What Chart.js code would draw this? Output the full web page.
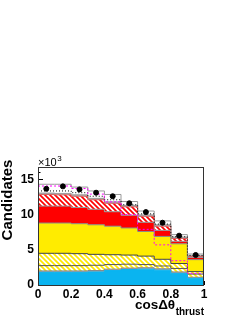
<!DOCTYPE html>
<html>
<head>
<meta charset="utf-8">
<script src="https://cdn.jsdelivr.net/npm/chart.js@4.4.0/dist/chart.umd.min.js"></script>
<style>
  html, body { margin: 0; padding: 0; background: #fff; }
  #wrap { width: 245px; height: 317px; }
</style>
</head>
<body>
<div id="wrap"><canvas id="histChart"></canvas></div>
<script>
// 10 bins in cos(dtheta_thrust), contents in units of 10^3 candidates
const binEdges = [0, 0.1, 0.2, 0.3, 0.4, 0.5, 0.6, 0.7, 0.8, 0.9, 1.0];
const binCenters = [0.05, 0.15, 0.25, 0.35, 0.45, 0.55, 0.65, 0.75, 0.85, 0.95];

// stacked components, bottom to top
const blueComp     = [1.80, 1.80, 1.80, 1.85, 2.05, 2.20, 2.25, 2.10, 1.65, 0.95];
const grayLowComp  = [0.20, 0.20, 0.20, 0.20, 0.20, 0.20, 0.20, 0.20, 0.20, 0.15];
const hatchLowComp = [0.75, 0.75, 0.75, 0.75, 0.65, 0.55, 0.45, 0.40, 0.50, 0.45];
const hatchUpComp  = [1.75, 1.75, 1.70, 1.55, 1.40, 1.30, 1.20, 0.95, 0.70, 0.35];
const yellowComp   = [4.30, 4.30, 4.25, 4.20, 4.05, 3.85, 3.50, 3.25, 2.80, 1.70];
const redComp      = [2.40, 2.40, 2.30, 2.20, 2.05, 1.80, 1.30, 0.85, 0.35, 0.30];
const redHatchComp = [1.65, 1.60, 1.60, 1.35, 1.20, 1.20, 0.85, 0.60, 0.40, 0.15];
const grayHighComp = [0.20, 0.20, 0.20, 0.20, 0.20, 0.20, 0.20, 0.20, 0.20, 0.10];
const topComp      = [1.25, 1.30, 1.10, 1.05, 1.05, 0.55, 0.55, 0.55, 0.35, 0.25];

// overlaid (not stacked)
const dottedLine  = [13.35, 13.35, 13.10, 12.60, 12.10, 11.40, 10.10, 8.65, 6.85, 4.20];
const magentaLine = [14.05, 14.05, 13.70, 12.90, 11.80, 10.00, 7.90, 5.70, 3.45, 1.65];
const dataPoints  = [13.66, 14.00, 13.57, 13.10, 12.60, 11.60, 10.35, 8.84, 7.00, 4.26];

const xTicks = [0, 0.2, 0.4, 0.6, 0.8, 1];
const yTicks = [0, 5, 10, 15];

// hatch pattern "\\\\" on white
function hatch(color) {
  const c = document.createElement('canvas');
  c.width = 5; c.height = 5;
  const g = c.getContext('2d');
  g.fillStyle = '#fff';
  g.fillRect(0, 0, 5, 5);
  g.strokeStyle = color;
  g.lineWidth = 1.7;
  g.beginPath();
  g.moveTo(-1, -1); g.lineTo(6, 6);
  g.moveTo(-1, 4); g.lineTo(1, 6);
  g.moveTo(4, -1); g.lineTo(6, 1);
  g.stroke();
  return g.createPattern(c, 'repeat');
}

// histogram outline points from bin contents
function steps(vals) {
  const pts = vals.map((v, i) => ({ x: binEdges[i], y: v }));
  pts.push({ x: binEdges[vals.length], y: vals[vals.length - 1] });
  return pts;
}

const layers = [
  { comp: blueComp,     bg: '#0ab4f0',          border: '#0ab4f0' },
  { comp: grayLowComp,  bg: '#a9a9a9',          border: '#888888' },
  { comp: hatchLowComp, bg: hatch('#ffe800'),   border: '#555555' },
  { comp: hatchUpComp,  bg: hatch('#ffe800'),   border: '#444444' },
  { comp: yellowComp,   bg: '#ffec00',          border: '#888888' },
  { comp: redComp,      bg: '#ff0000',          border: '#999999' },
  { comp: redHatchComp, bg: hatch('#ff0000'),   border: '#cc6666' },
  { comp: grayHighComp, bg: '#b0b0b0',          border: '#999999' },
  { comp: topComp,      bg: '#ffffff',          border: '#999999' }
];

const datasets = [];
let running = new Array(binCenters.length).fill(0);
layers.forEach((l, i) => {
  running = running.map((r, k) => r + l.comp[k]);
  datasets.push({
    type: 'line',
    data: steps(running),
    stepped: true,
    fill: i === 0 ? 'origin' : '-1',
    backgroundColor: l.bg,
    borderColor: l.border,
    borderWidth: 1,
    pointRadius: 0,
    order: 5
  });
});

datasets.push({
  type: 'line',
  data: steps(dottedLine),
  stepped: true,
  fill: false,
  borderColor: '#000',
  borderWidth: 1,
  borderDash: [1, 2],
  pointRadius: 0,
  order: 2
});
datasets.push({
  type: 'line',
  data: steps(magentaLine),
  stepped: true,
  fill: false,
  borderColor: '#ff00ff',
  borderWidth: 1,
  borderDash: [2, 2],
  pointRadius: 0,
  order: 1
});
datasets.push({
  type: 'line',
  data: binCenters.map((x, i) => ({ x: x, y: dataPoints[i] })),
  showLine: false,
  pointRadius: 2.5,
  pointBackgroundColor: '#000',
  pointBorderColor: '#000',
  order: 0
});

// ROOT-like frame, inner ticks and text
const frameDecor = {
  id: 'frameDecor',
  beforeDatasetsDraw(chart) {
    const { ctx, chartArea: a, scales: { x, y } } = chart;
    ctx.save();
    ctx.strokeStyle = '#000';
    ctx.lineWidth = 1;
    ctx.beginPath();
    for (let v = 0; v <= 16; v++) {
      const py = Math.round(y.getPixelForValue(v)) + 0.5;
      const len = v % 5 === 0 ? 5 : 2.5;
      ctx.moveTo(a.left, py);
      ctx.lineTo(a.left + len, py);
    }
    for (let i = 0; i <= 20; i++) {
      const px = Math.round(x.getPixelForValue(i * 0.05)) + 0.5;
      const len = i % 4 === 0 ? 4 : 2;
      ctx.moveTo(px, a.bottom);
      ctx.lineTo(px, a.bottom - len);
    }
    ctx.stroke();
    ctx.restore();
  },
  afterDatasetsDraw(chart) {
    const { ctx, chartArea: a } = chart;
    ctx.save();
    ctx.strokeStyle = '#333';
    ctx.lineWidth = 1;
    ctx.strokeRect(a.left + 0.5, a.top + 0.5, a.right - a.left - 1, a.bottom - a.top);
    ctx.restore();
  },
  afterDraw(chart) {
    const { ctx, chartArea: a } = chart;
    ctx.save();
    ctx.fillStyle = '#000';

    // y title
    ctx.save();
    ctx.translate(12, 200);
    ctx.rotate(-Math.PI / 2);
    ctx.font = 'bold 15px "Liberation Sans", Arial, sans-serif';
    ctx.textAlign = 'center';
    ctx.textBaseline = 'alphabetic';
    ctx.fillText('Candidates', 0, 0);
    ctx.restore();

    // exponent
    ctx.font = '11px "Liberation Sans", Arial, sans-serif';
    ctx.textAlign = 'left';
    ctx.textBaseline = 'alphabetic';
    ctx.fillText('\u00d710', a.left, 166);
    const w10 = ctx.measureText('\u00d710').width;
    ctx.font = '8px "Liberation Sans", Arial, sans-serif';
    ctx.fillText('3', a.left + w10 + 0.5, 161);

    // x title
    ctx.font = 'bold 10px "Liberation Sans", Arial, sans-serif';
    const wSub = ctx.measureText('thrust').width;
    const subX = 204 - wSub;
    ctx.fillText('thrust', subX, 315);
    ctx.font = 'bold 13.5px "Liberation Sans", Arial, sans-serif';
    ctx.textAlign = 'right';
    ctx.fillText('cos\u0394\u03b8', subX - 0.5, 309);
    ctx.restore();
  }
};

const ctx = document.getElementById('histChart');
new Chart(ctx, {
  data: { datasets: datasets },
  options: {
    responsive: true,
    maintainAspectRatio: false,
    animation: false,
    devicePixelRatio: 1,
    layout: { padding: { top: 167, right: 41, left: 0, bottom: 0 } },
    plugins: {
      legend: { display: false },
      tooltip: { enabled: false }
    },
    scales: {
      x: {
        type: 'linear',
        min: 0,
        max: 1,
        grid: { display: false, drawTicks: false },
        border: { display: false },
        afterFit: (scale) => { scale.height = 32; },
        afterBuildTicks: (scale) => { scale.ticks = xTicks.map(v => ({ value: v })); },
        ticks: {
          autoSkip: false,
          maxRotation: 0,
          padding: 2,
          color: '#000',
          font: { family: '"Liberation Sans", Arial, sans-serif', size: 12, weight: 'bold' },
          callback: (v) => String(Number(v.toFixed(1)))
        }
      },
      y: {
        type: 'linear',
        min: 0,
        max: 16.75,
        grid: { display: false, drawTicks: false },
        border: { display: false },
        afterFit: (scale) => { scale.width = 38; },
        afterBuildTicks: (scale) => { scale.ticks = yTicks.map(v => ({ value: v })); },
        ticks: {
          padding: 4,
          color: '#000',
          font: { family: '"Liberation Sans", Arial, sans-serif', size: 12, weight: 'bold' }
        }
      }
    }
  },
  plugins: [frameDecor]
});
</script>
</body>
</html>
